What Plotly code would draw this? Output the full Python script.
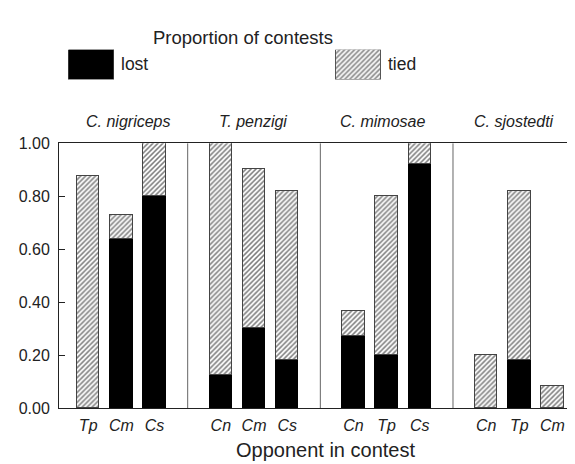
import plotly.graph_objects as go

# ---- data ----
species = ["C. nigriceps", "T. penzigi", "C. mimosae", "C. sjostedti"]
opponents = [["Tp", "Cm", "Cs"], ["Cn", "Cm", "Cs"], ["Cn", "Tp", "Cs"], ["Cn", "Tp", "Cm"]]
lost = [[0.0, 0.636, 0.80], [0.125, 0.30, 0.182], [0.273, 0.20, 0.92], [0.0, 0.182, 0.0]]
total = [[0.875, 0.727, 1.00], [1.00, 0.90, 0.818], [0.364, 0.80, 1.00], [0.20, 0.818, 0.083]]
y_ticks = [0.0, 0.2, 0.4, 0.6, 0.8, 1.0]

W, H = 575, 464
FONT = "Liberation Sans"
TXT = "#222"

# positions: each panel holds 3 bars, one empty slot between panels
xs, labels, lost_v, tied_v = [], [], [], []
for p in range(len(species)):
    for j in range(3):
        xs.append(p * 4 + j)
        labels.append(opponents[p][j])
        lost_v.append(lost[p][j])
        tied_v.append(round(total[p][j] - lost[p][j], 3))
dividers = [p * 4 - 1 for p in range(1, len(species))]

hatch = dict(shape="/", fgcolor="black", bgcolor="white", size=3.5, solidity=0.45)
BW = 0.675

fig = go.Figure()
fig.add_trace(go.Bar(x=xs, y=lost_v, width=BW, marker=dict(color="black", line=dict(color="black", width=1)),
                     name="lost", showlegend=False, hoverinfo="skip"))
fig.add_trace(go.Bar(x=xs, y=tied_v, width=BW,
                     marker=dict(color="white", pattern=hatch, line=dict(color="#444", width=1)),
                     name="tied", showlegend=False, hoverinfo="skip"))

# legend swatches (drawn as bars on a separate axis)
fig.add_trace(go.Bar(x=[0], y=[1], width=0.169, xaxis="x2", yaxis="y2",
                     marker=dict(color="black", line=dict(color="#333", width=1)),
                     showlegend=False, hoverinfo="skip"))
fig.add_trace(go.Bar(x=[1], y=[1], width=0.169, xaxis="x2", yaxis="y2",
                     marker=dict(color="white", pattern=hatch, line=dict(color="#555", width=1)),
                     showlegend=False, hoverinfo="skip"))

def px(x):
    return x / W

def py(y):
    return 1 - y / H

shapes = []
for d in dividers:
    shapes.append(dict(type="line", xref="x", yref="y", x0=d, x1=d, y0=0, y1=1,
                       line=dict(color="#666", width=1)))

annotations = []
title_px = [120, 245, 374, 506]
for name, xp in zip(species, title_px):
    annotations.append(dict(text=name, x=px(xp), y=py(110), xref="paper", yref="paper",
                            showarrow=False, xanchor="center", yanchor="middle",
                            font=dict(family=FONT, size=16, color=TXT, style="italic")))
annotations.append(dict(text="Proportion of contests", x=px(235), y=py(22), xref="paper", yref="paper",
                        showarrow=False, xanchor="center", yanchor="middle",
                        font=dict(family=FONT, size=18.5, color=TXT)))
annotations.append(dict(text="lost", x=px(111), y=py(50), xref="paper", yref="paper",
                        showarrow=False, xanchor="left", yanchor="middle",
                        font=dict(family=FONT, size=17.5, color=TXT)))
annotations.append(dict(text="tied", x=px(378), y=py(50), xref="paper", yref="paper",
                        showarrow=False, xanchor="left", yanchor="middle",
                        font=dict(family=FONT, size=17.5, color=TXT)))
annotations.append(dict(text="Opponent in contest", x=px(317), y=py(451), xref="paper", yref="paper",
                        showarrow=False, xanchor="center", yanchor="middle",
                        font=dict(family=FONT, size=20, color=TXT)))

fig.update_layout(
    width=W, height=H, margin=dict(l=0, r=0, t=0, b=0),
    paper_bgcolor="white", plot_bgcolor="white",
    barmode="stack", bargap=0,
    font=dict(family=FONT, color=TXT),
    xaxis=dict(domain=[51 / W, 574 / W], range=[-0.88, 14.89], tickmode="array",
               tickvals=xs, ticktext=labels, ticks="", showgrid=False, zeroline=False,
               showline=True, linecolor="#222", linewidth=1, mirror=True,
               tickfont=dict(family=FONT, size=16, color=TXT, style="italic"),
               ticklabelstandoff=3),
    yaxis=dict(domain=[py(407), py(132)], range=[0, 1], tickmode="array",
               tickvals=y_ticks, ticktext=[f"{v:.2f}" for v in y_ticks],
               ticks="inside", ticklen=6, tickcolor="#222", showgrid=False, zeroline=False,
               showline=True, linecolor="#222", linewidth=1, mirror=True,
               tickfont=dict(family=FONT, size=16, color=TXT), ticklabelstandoff=5),
    xaxis2=dict(domain=[0, 1], range=[-0.312, 1.843], visible=False, anchor="y2"),
    yaxis2=dict(domain=[py(66), py(35)], range=[0, 1], visible=False, anchor="x2"),
    shapes=shapes, annotations=annotations,
)

fig.write_html("out.html")
